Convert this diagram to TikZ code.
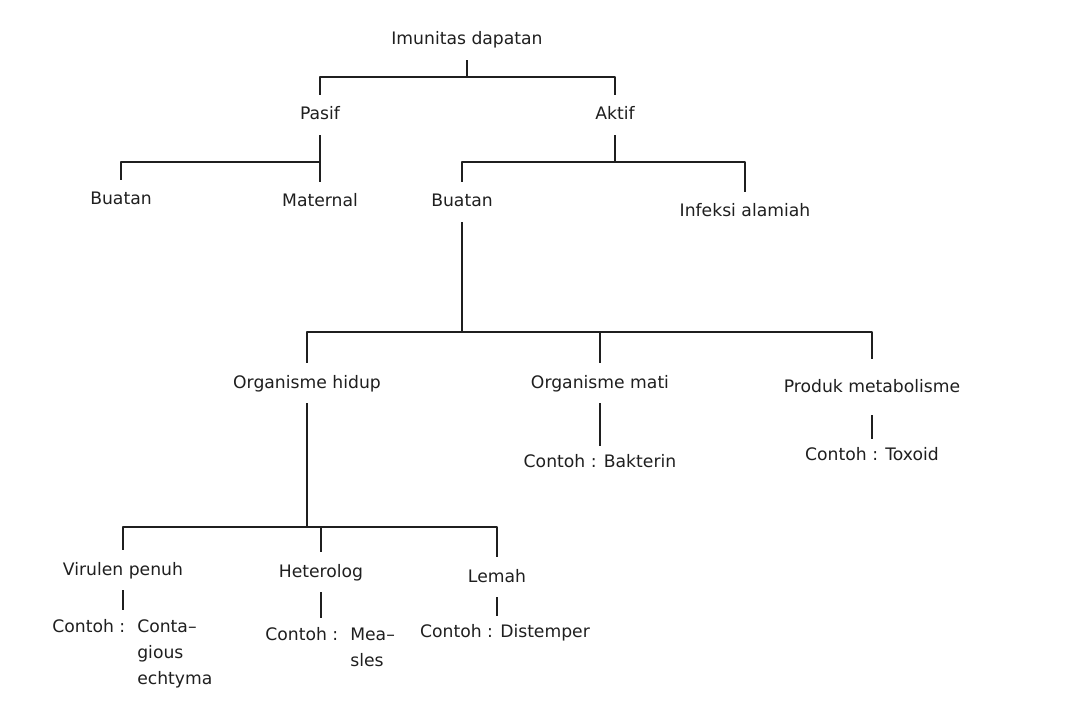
\documentclass[tikz,border=0pt]{standalone}
\usepackage{fontspec}
\setmainfont{DejaVu Sans}
\usepackage{xcolor}
\usepackage{tikz}
\usetikzlibrary{positioning}
\definecolor{ink}{HTML}{1f1f1f}
\tikzset{
  term/.style={text=ink, inner xsep=1pt, inner ysep=6pt, text height=6.5pt, text depth=1.5pt},
  sample/.style={text=ink, inner xsep=1pt, inner ysep=4pt, text height=6.5pt, text depth=1.5pt},
  samplelist/.style={text=ink, inner sep=1.5pt, anchor=base west},
  link/.style={draw=ink, line width=1.4pt, line join=round},
}

\begin{document}
\begin{tikzpicture}[x=0.5pt, y=-0.5pt, every node/.style={font=\fontsize{8.6}{13}\selectfont}]

  \useasboundingbox [fill=white] (0,0) rectangle (1080,705);

  \node (a1) [term] at (467,40) {Imunitas dapatan};
  \node (b1) [term] at (320,115) {Pasif};
  \node (b2) [term] at (615,115) {Aktif};
  \node (c1) [term] at (121,200) {Buatan};
  \node (c2) [term] at (320,202) {Maternal};
  \node (c3) [term] at (462,202) {Buatan};
  \node (c4) [term] at (745,212) {Infeksi alamiah};
  \node (d1) [term] at (307,383) {Organisme hidup};
  \node (d2) [term] at (600,383) {Organisme mati};
  \node (d3) [term, inner ysep=10pt] at (872,387) {Produk metabolisme};
  \node (e2) [sample] at (600,462) {Contoh : Bakterin};
  \node (e3) [sample] at (872,455) {Contoh : Toxoid};
  \node (f1) [term] at (123,570) {Virulen penuh};
  \node (f2) [term] at (321,572) {Heterolog};
  \node (f3) [term] at (497,577) {Lemah};
  \node (g1) [samplelist] at (49,632)
    {\begin{tabular}[t]{@{}l@{\hspace{0.7em}}l@{}}Contoh : & Conta--\\ & gious\\ & echtyma\end{tabular}};
  \node (g2) [samplelist] at (262,640)
    {\begin{tabular}[t]{@{}l@{\hspace{0.7em}}l@{}}Contoh : & Mea--\\ & sles\end{tabular}};
  \node (g3) [sample] at (505,632) {Contoh : Distemper};

  \coordinate (j0) at (467,77);
  \coordinate (j1) at (320,162);
  \coordinate (j2) at (615,162);
  \coordinate (j3) at (462,332);
  \coordinate (j4) at (307,527);

  \draw [link] (a1) -- (j0) (j0) -| (b1) (j0) -| (b2);
  \draw [link] (b1) -- (c2) (j1) -| (c1);
  \draw [link] (b2) -- (j2) (j2) -| (c3) (j2) -| (c4);
  \draw [link] (c3) -- (j3) (j3) -| (d1) (j3) -| (d2) (j3) -| (d3);
  \draw [link] (d2) -- (e2) (d3) -- (e3);
  \draw [link] (d1) -- (j4) (j4) -| (f1) (j4) -| (f2) (j4) -| (f3);
  \draw [link] (f1) -- (f1 |- g1.north) (f2) -- (f2 |- g2.north) (f3) -- (f3 |- g3.north);

\end{tikzpicture}
\end{document}
